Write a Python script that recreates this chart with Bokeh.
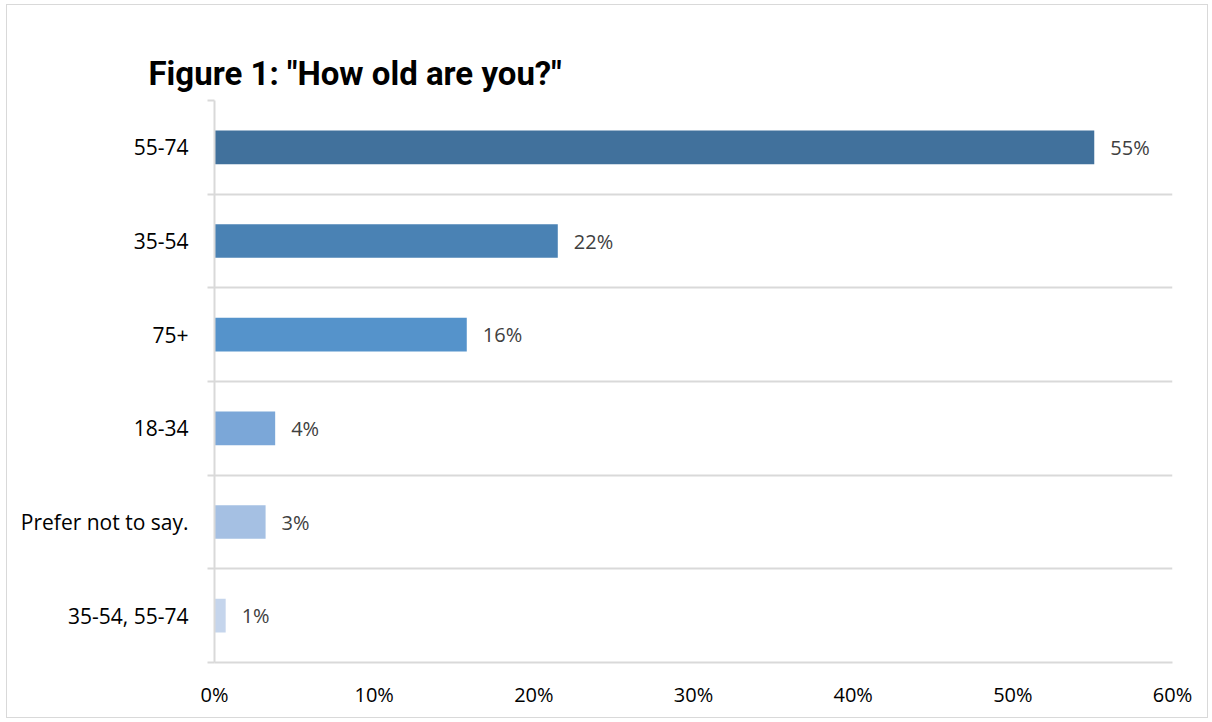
from bokeh.plotting import figure
from bokeh.models import ColumnDataSource, FixedTicker
from bokeh.core.properties import value
from bokeh.embed import file_html
from bokeh.resources import INLINE

# Data (top to bottom as shown)
categories = ["55-74", "35-54", "75+", "18-34", "Prefer not to say.", "35-54, 55-74"]
values = [55.1, 21.5, 15.8, 3.8, 3.2, 0.7]
value_labels = ["55%", "22%", "16%", "4%", "3%", "1%"]
colors = ["#41719C", "#4A82B4", "#5593CB", "#7BA7D8", "#A5C0E3", "#C5D5EC"]
x_ticks = [0, 10, 20, 30, 40, 50, 60]
x_tick_labels = ["0%", "10%", "20%", "30%", "40%", "50%", "60%"]

n = len(categories)
ypos = [n - 1 - i for i in range(n)]
boundaries = [i - 0.5 for i in range(n + 1)]

src = ColumnDataSource(dict(y=ypos, v=values, lab=value_labels, c=colors, cat=categories))

p = figure(width=1202, height=714, output_backend="svg", toolbar_location=None,
           x_range=(0, 60), y_range=(-0.5, n - 0.5),
           title='Figure 1: "How old are you?"',
           min_border_left=207, min_border_right=37, min_border_top=95, min_border_bottom=57)
p.styles = {"border": "1px solid #d9d9d9", "margin-left": "6px", "margin-top": "4px"}
p.outline_line_color = None
p.background_fill_color = "white"
p.border_fill_color = "white"

p.title.text_font = "Roboto"
p.title.text_font_size = "33px"
p.title.text_font_style = "bold"
p.title.text_color = "#000000"
p.title.align = "left"
p.title.offset = -66
p.title.standoff = 16

p.hbar(y="y", left=0, right="v", height=0.36, fill_color="c", line_color=None, source=src)
p.text(x="v", y="y", text="lab", source=src, x_offset=16, text_baseline="middle",
       text_align="left", text_font=value("Open Sans"), text_font_size="20px",
       text_color="#404040")

# Grid
p.xgrid.grid_line_color = None
p.ygrid.ticker = FixedTicker(ticks=boundaries)
p.ygrid.grid_line_color = "#d9d9d9"
p.ygrid.grid_line_width = 2

# Y axis
p.yaxis.ticker = FixedTicker(ticks=ypos, minor_ticks=boundaries)
p.yaxis.major_label_overrides = {y: c for y, c in zip(ypos, categories)}
p.yaxis.major_tick_line_color = None
p.yaxis.major_tick_out = 0
p.yaxis.major_tick_in = 0
p.yaxis.minor_tick_out = 7
p.yaxis.minor_tick_in = 0
p.yaxis.minor_tick_line_color = "#d9d9d9"
p.yaxis.minor_tick_line_width = 2
p.yaxis.axis_line_color = "#d9d9d9"
p.yaxis.axis_line_width = 2
p.yaxis.major_label_standoff = 19
p.yaxis.major_label_text_font = "Open Sans"
p.yaxis.major_label_text_font_size = "21px"
p.yaxis.major_label_text_color = "#000000"

# X axis
p.xaxis.ticker = FixedTicker(ticks=x_ticks)
p.xaxis.major_label_overrides = {t: l for t, l in zip(x_ticks, x_tick_labels)}
p.xaxis.major_tick_line_color = None
p.xaxis.major_tick_out = 0
p.xaxis.minor_tick_line_color = None
p.xaxis.axis_line_color = "#d9d9d9"
p.xaxis.axis_line_width = 2
p.xaxis.major_label_standoff = 18
p.xaxis.major_label_text_font = "Open Sans"
p.xaxis.major_label_text_font_size = "20px"
p.xaxis.major_label_text_color = "#000000"

open("out.html", "w").write(file_html(p, INLINE))
